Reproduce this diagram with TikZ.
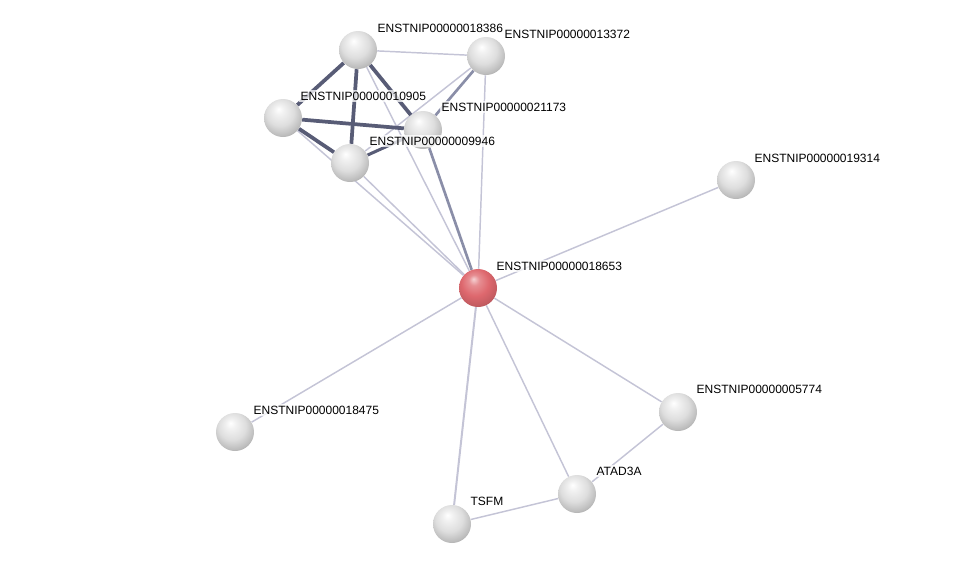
\documentclass[tikz,border=0pt]{standalone}
\usepackage{fontspec}
\setmainfont{Liberation Sans}
\usetikzlibrary{positioning,backgrounds,shadings}
\definecolor{ppLight}{RGB}{196,196,214}
\definecolor{ppMid}{RGB}{138,142,168}
\definecolor{ppDark}{RGB}{88,92,118}
\definecolor{ppGray}{RGB}{222,222,222}
\definecolor{ppRed}{RGB}{222,104,110}
\pgfdeclareradialshading{greyball}{\pgfqpoint{-6bp}{12bp}}{color(0bp)=(white); color(7bp)=(ppGray!45!white); color(18bp)=(ppGray); color(28bp)=(ppGray!85!black); color(36bp)=(ppGray!65!black); color(50bp)=(ppGray!45!black)}
\pgfdeclareradialshading{redball}{\pgfqpoint{-6bp}{12bp}}{color(0bp)=(ppRed!30!white); color(7bp)=(ppRed!75!white); color(18bp)=(ppRed); color(28bp)=(ppRed!88!black); color(36bp)=(ppRed!68!black); color(50bp)=(ppRed!45!black)}

\begin{document}
\begin{tikzpicture}[x=0.75pt, y=-0.75pt,
  prot/.style={circle, minimum size=28.5pt, inner sep=0pt, shading=greyball},
  query/.style={prot, shading=redball},
  lbl/.style={font=\fontsize{9}{10}\selectfont, anchor=west, inner sep=1pt,
    fill=white, fill opacity=0.75, text opacity=1},
  weak/.style={ppLight, line width=1.1pt},
  medium/.style={ppMid, line width=2pt},
  strong/.style={ppDark, line width=2.8pt}]
  \useasboundingbox (0,0) rectangle (975,569);

  % proteins
  \node[prot] (p18386) at (358,50) {};
  \node[prot] (p13372) at (486,56) {};
  \node[prot] (p10905) at (283,118) {};
  \node[prot] (p21173) at (423,130) {};
  \node[prot] (p9946) at (350,163) {};
  \node[prot] (p19314) at (736,180) {};
  \node[query] (p18653) at (478,288) {};
  \node[prot] (p5774) at (678,412) {};
  \node[prot] (p18475) at (235,432) {};
  \node[prot] (atad) at (577,494) {};
  \node[prot] (tsfm) at (452,524) {};

  % labels
  \node[lbl] at (376,28) {ENSTNIP00000018386};
  \node[lbl] at (503,34) {ENSTNIP00000013372};
  \node[lbl] at (299,96) {ENSTNIP00000010905};
  \node[lbl] at (440,107) {ENSTNIP00000021173};
  \node[lbl] at (368,141) {ENSTNIP00000009946};
  \node[lbl] at (753,158) {ENSTNIP00000019314};
  \node[lbl] at (495,266) {ENSTNIP00000018653};
  \node[lbl] at (695,389) {ENSTNIP00000005774};
  \node[lbl] at (252,410) {ENSTNIP00000018475};
  \node[lbl] at (595,471) {ATAD3A};
  \node[lbl] at (469,501) {TSFM};

  % interactions
  \begin{scope}[on background layer]
    \draw[weak] (p13372) -- (p18386);
    \draw[weak] (p13372) -- (p9946);
    \draw[weak] (p18386) -- (p18653);
    \draw[weak] (p10905) -- (p18653);
    \draw[weak] (p9946) -- (p18653);
    \draw[weak] (p13372) -- (p18653);
    \draw[weak] (p18653) -- (p19314);
    \draw[weak] (p18653) -- (p18475);
    \draw[weak] (p18653) -- (atad);
    \draw[weak] (p18653) -- (p5774);
    \draw[weak] (atad) -- (p5774);
    \draw[weak] (tsfm) -- (atad);
    \draw[weak, line width=1.5pt] (p18653) -- (tsfm);
    \draw[medium] (p13372) -- (p21173);
    \draw[medium] (p21173) -- (p18653);
    \draw[strong] (p18386) -- (p10905);
    \draw[strong] (p18386) -- (p9946);
    \draw[strong] (p18386) -- (p21173);
    \draw[strong] (p10905) -- (p21173);
    \draw[strong] (p10905) -- (p9946);
    \draw[strong, line width=2.3pt] (p9946) -- (p21173);
  \end{scope}
\end{tikzpicture}
\end{document}
